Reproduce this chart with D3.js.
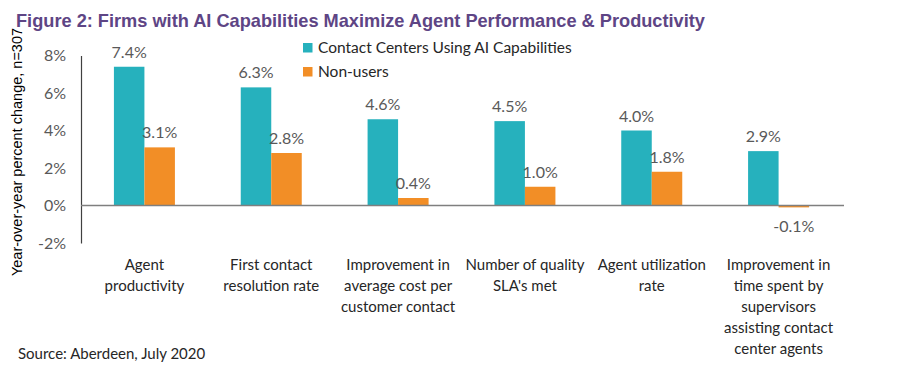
<!DOCTYPE html>
<html>
<head>
<meta charset="utf-8">
<script src="https://cdn.jsdelivr.net/npm/d3@7"></script>
<style>
  body { margin: 0; background: #fff; }
  svg text { font-family: "Source Sans Pro", Lato, "Open Sans", sans-serif; }
</style>
</head>
<body>
<svg id="chart" width="907" height="375"></svg>
<script>
const categories = [
  ['Agent', 'productivity'],
  ['First contact', 'resolution rate'],
  ['Improvement in', 'average cost per', 'customer contact'],
  ['Number of quality', "SLA's met"],
  ['Agent utilization', 'rate'],
  ['Improvement in', 'time spent by', 'supervisors', 'assisting contact', 'center agents']
];
const aiUsers = [7.4, 6.3, 4.6, 4.5, 4.0, 2.9];
const nonUsers = [3.1, 2.8, 0.4, 1.0, 1.8, -0.1];
const seriesNames = ['Contact Centers Using AI Capabilities', 'Non-users'];
const yTicks = [-2, 0, 2, 4, 6, 8];

const colors = ['#26B1BD', '#F28E26'];
const svg = d3.select('#chart');
const margin = { left: 81, right: 65, top: 55.5, bottom: 132 };
const width = 907 - margin.left - margin.right;
const height = 375 - margin.top - margin.bottom;

const g = svg.append('g').attr('transform', `translate(${margin.left},${margin.top})`);

const x = d3.scaleBand().domain(d3.range(categories.length)).range([0, width]).paddingInner(0).paddingOuter(0);
const y = d3.scaleLinear().domain([-2, 8]).range([height, 0]);
const bw = 30.5;

// title
svg.append('text')
  .attr('x', 16).attr('y', 27)
  .style('font-family', '"Liberation Sans", Arial, sans-serif')
  .style('font-weight', 'bold').style('font-size', '18.2px')
  .attr('fill', '#5E4585')
  .text('Figure 2: Firms with AI Capabilities Maximize Agent Performance & Productivity');

// y axis
const yAxis = d3.axisLeft(y).tickValues(yTicks).tickSize(0).tickPadding(15).tickFormat(d => d + '%');
g.append('g').call(yAxis)
  .call(s => s.select('.domain').attr('stroke', '#404040').attr('stroke-width', 1.2))
  .call(s => s.selectAll('text').style('font-size', '16px').attr('fill', '#595959')
    .style('font-family', '"Source Sans Pro", Lato, "Open Sans", sans-serif'));

const data = categories.map((c, i) => ({ i, vals: [aiUsers[i], nonUsers[i]] }));
const groups = g.selectAll('.grp').data(data).enter().append('g')
  .attr('transform', d => `translate(${x(d.i) + x.bandwidth() / 2},0)`);

groups.selectAll('rect').data(d => d.vals).enter().append('rect')
  .attr('x', (v, j) => j === 0 ? -bw : 0)
  .attr('width', bw)
  .attr('y', v => y(Math.max(0, v)))
  .attr('height', v => Math.max(Math.abs(y(v) - y(0)), 0))
  .attr('fill', (v, j) => colors[j]);

// value labels
groups.selectAll('.val').data(d => d.vals).enter().append('text')
  .attr('x', (v, j) => j === 0 ? -bw / 2 : bw / 2)
  .attr('y', v => v >= 0 ? y(v) - 9 : y(0) + 26)
  .attr('text-anchor', 'middle')
  .style('font-size', '16px').attr('fill', '#595959')
  .text(v => v.toFixed(1) + '%');

// zero line on top of bars
g.append('line')
  .attr('x1', 0).attr('x2', width + 2)
  .attr('y1', y(0)).attr('y2', y(0))
  .attr('stroke', '#7f7f7f').attr('stroke-width', 1.5);

// category labels
groups.append('text')
  .attr('text-anchor', 'middle')
  .style('font-size', '15px').attr('fill', '#262626')
  .selectAll('tspan').data(d => categories[d.i]).enter().append('tspan')
  .attr('x', 0)
  .attr('y', (t, k) => height + 27 + k * 21)
  .text(t => t);

// y label
svg.append('text')
  .attr('transform', 'translate(22,152) rotate(-90)')
  .attr('text-anchor', 'middle')
  .style('font-family', '"Liberation Sans", Arial, sans-serif')
  .style('font-size', '14.5px').attr('fill', '#000')
  .text('Year-over-year percent change, n=307');

// legend
const legend = svg.append('g').attr('transform', 'translate(303,43)');
seriesNames.forEach((name, i) => {
  legend.append('rect').attr('x', 0).attr('y', i * 24).attr('width', 9.5).attr('height', 9.5).attr('fill', colors[i]);
  legend.append('text').attr('x', 15).attr('y', i * 24 + 10)
    .style('font-size', '15.5px').attr('fill', '#262626').text(name);
});

// source
svg.append('text')
  .attr('x', 18).attr('y', 359)
  .style('font-size', '15px').attr('fill', '#262626')
  .text('Source: Aberdeen, July 2020');
</script>
</body>
</html>
